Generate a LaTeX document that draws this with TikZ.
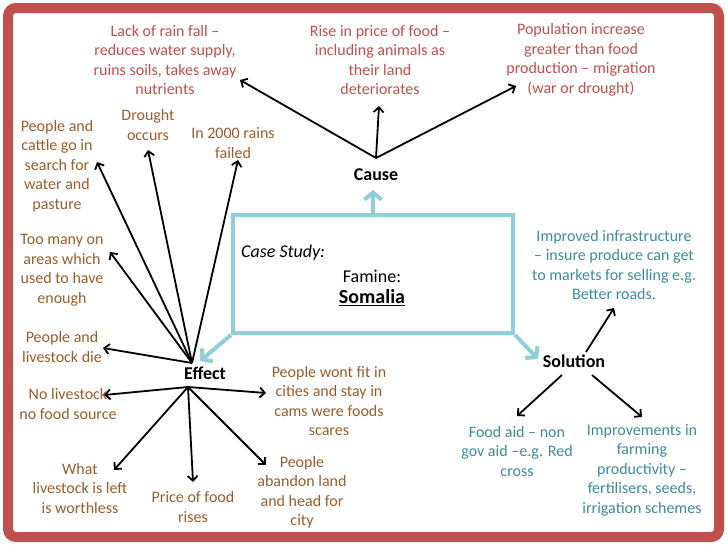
\documentclass[tikz,border=0pt]{standalone}
\usepackage{fontspec}
\setmainfont{Carlito}
\usetikzlibrary{arrows.meta}
\definecolor{framecol}{RGB}{192,80,77}
\definecolor{causecol}{RGB}{192,80,77}
\definecolor{effcol}{RGB}{155,93,42}
\definecolor{solcol}{RGB}{60,140,160}
\definecolor{boxblue}{RGB}{146,205,220}
\begin{document}
\begin{tikzpicture}[x=1pt,y=-1pt,
  txt/.style={align=center, inner sep=0pt, font=\fontsize{16}{19.5}\selectfont},
  causetxt/.style={txt, text=causecol},
  efftxt/.style={txt, text=effcol},
  soltxt/.style={txt, text=solcol},
  lbl/.style={inner sep=0pt, font=\fontsize{18}{22}\selectfont\bfseries},
  arr/.style={draw=black, line width=1.8pt, -{Straight Barb[length=5pt,width=10pt]}},
  barr/.style={draw=boxblue, line width=4pt, -{Straight Barb[length=7pt,width=17pt]}}]
\useasboundingbox (0,0) rectangle (728,546);
\fill[white] (0,0) rectangle (728,546);
\draw[framecol, line width=10pt, rounded corners=8pt] (8,8) rectangle (719,537);

% central box
\node[draw=boxblue, line width=4pt, minimum width=280pt, minimum height=118pt, inner sep=0pt] (box) at (373,274) {};
\node[inner sep=0pt, anchor=west, font=\fontsize{18}{22}\selectfont\itshape] (case) at (241,253) {Case Study:};
\node[inner sep=0pt, font=\fontsize{18}{22}\selectfont] (famine) at (372,276) {Famine:};
\node[inner sep=0pt, font=\fontsize{20}{24}\selectfont\bfseries] (somalia) at (372,298) {\underline{Somalia}};

% labels
\node[lbl] (cause) at (376,175) {Cause};
\node[lbl] (effect) at (205,373) {Effect};
\node[lbl] (solution) at (574,361) {Solution};

% blue arrows
\coordinate (bC) at (373,190);
\coordinate (bE) at (200,361);
\coordinate (bS) at (538,359);
\draw[barr] (box.north) -- (bC);
\draw[barr] (box.south west) -- (bE);
\draw[barr] (box.south east) -- (bS);

% cause texts
\node[causetxt] (c1) at (165,60) {Lack of rain fall –\\reduces water supply,\\ruins soils, takes away\\nutrients};
\node[causetxt] (c2) at (380,60) {Rise in price of food –\\including animals as\\their land\\deteriorates};
\node[causetxt] (c3) at (581,60) {Population increase\\greater than food\\production – migration\\(war or drought)};

% effect texts
\node[efftxt] (e1) at (57,166) {People and\\cattle go in\\search for\\water and\\pasture};
\node[efftxt] (e2) at (148,125) {Drought\\occurs};
\node[efftxt] (e3) at (233,143) {In 2000 rains\\failed};
\node[efftxt] (e4) at (62,270) {Too many on\\areas which\\used to have\\enough};
\node[efftxt] (e5) at (62,347) {People and\\livestock die};
\node[efftxt] (e6) at (68,404) {No livestock\\no food source};
\node[efftxt] (e7) at (329,401) {People wont fit in\\cities and stay in\\cams were foods\\scares};
\node[efftxt] (e8) at (80,488) {What\\livestock is left\\is worthless};
\node[efftxt] (e9) at (193,507) {Price of food\\rises};
\node[efftxt] (e10) at (302,492) {People\\abandon land\\and head for\\city};

% solution texts
\node[soltxt] (s3) at (614,265) {Improved infrastructure\\– insure produce can get\\to markets for selling e.g.\\Better roads.};
\node[soltxt] (s1) at (517,451) {Food aid – non\\gov aid –e.g. Red\\cross};
\node[soltxt] (s2) at (642,470) {Improvements in\\farming\\productivity –\\fertilisers, seeds,\\irrigation schemes};

% connector points
\coordinate (cO) at (376,158);
\coordinate (eU) at (192,363);
\coordinate (eL) at (188,387);
\coordinate (sA) at (562,375);
\coordinate (sB) at (592,375);
\coordinate (sC) at (586,352);

\coordinate (tc1) at (240,80);
\coordinate (tc2) at (379,106);
\coordinate (tc3) at (516,86);
\coordinate (te1) at (97,162);
\coordinate (te2) at (148,150);
\coordinate (te3) at (238,160);
\coordinate (te4) at (110,252);
\coordinate (te5) at (103,348);
\coordinate (te6) at (104,395);
\coordinate (te7) at (266,393);
\coordinate (te8) at (114,470);
\coordinate (te9) at (193,482);
\coordinate (te10) at (266,465);
\coordinate (ts1) at (517,416);
\coordinate (ts2) at (642,417);
\coordinate (ts3) at (614,308);

\draw[arr] (cO) -- (tc1);
\draw[arr] (cO) -- (tc2);
\draw[arr] (cO) -- (tc3);
\foreach \t in {te1,te2,te3,te4,te5} \draw[arr] (eU) -- (\t);
\foreach \t in {te6,te7,te8,te9,te10} \draw[arr] (eL) -- (\t);
\draw[arr] (sA) -- (ts1);
\draw[arr] (sB) -- (ts2);
\draw[arr] (sC) -- (ts3);
\end{tikzpicture}
\end{document}
